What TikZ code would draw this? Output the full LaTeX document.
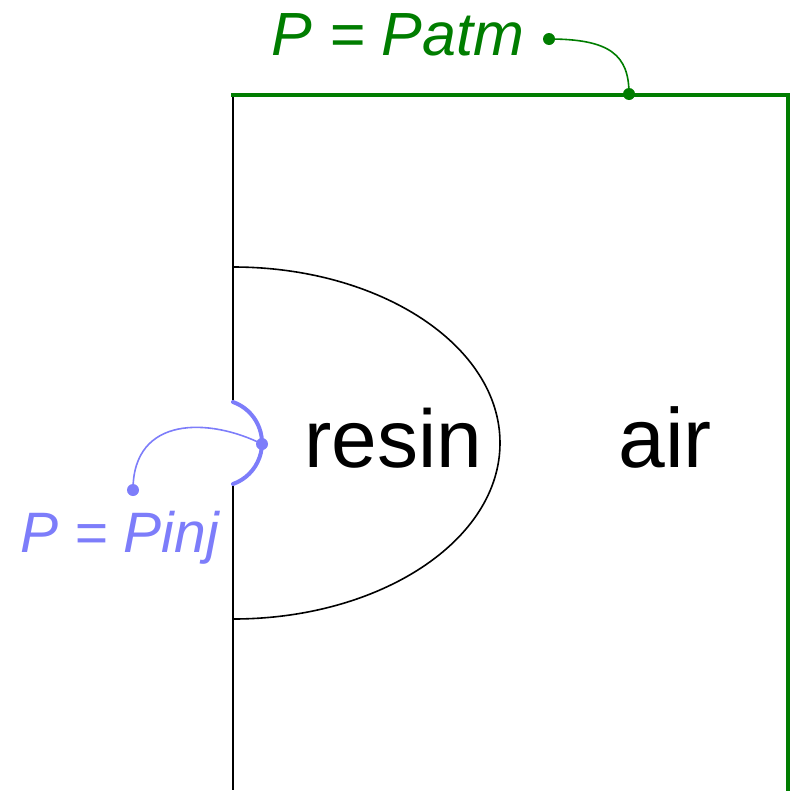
\documentclass[tikz,border=0pt]{standalone}
\usepackage{fontspec}
\setmainfont{Liberation Sans}
\usetikzlibrary{calc, positioning}

\definecolor{wallgreen}{RGB}{0,125,0}
\definecolor{inletblue}{RGB}{125,125,250}

\tikzset{
  wall/.style={line width=1.8pt, black},
  outlet/.style={line width=3.8pt, wallgreen},
  inlet/.style={line width=4pt, inletblue},
  leader/.style={line width=1.6pt},
  pin/.style={circle, fill, inner sep=0pt, minimum size=12pt},
  bigtext/.style={inner sep=0pt, anchor=base, font=\fontsize{82}{96}\selectfont},
  bctext/.style={inner sep=0pt, anchor=base}
}

\begin{document}
\begin{tikzpicture}[x=1pt,y=-1pt]
\def\xl{233}
\def\xr{788}
\def\ytop{95}
\def\ybot{790}
\def\yc{443}
\useasboundingbox (0,0) rectangle (792,790);

% walls of the mould
\draw[wall] (\xl,\ytop) -- (\xl,402);
\draw[wall] (\xl,483) -- (\xl,\ybot);
\draw[outlet, line cap=rect] (\xl,\ytop) -- (\xr,\ytop) -- (\xr,\ybot);

% resin front
\draw[line width=1.6pt] (\xl,267) arc[start angle=-90, end angle=90, x radius=267, y radius=176];

% injection gate
\draw[inlet, line cap=round] (\xl,402) arc[start angle=-70.5, end angle=70.5, radius=43.5];

\node[bigtext] (resin) at (393,467) {resin};
\node[bigtext, font=\fontsize{84}{96}\selectfont] (air) at (665,467) {air};

% boundary labels
\coordinate (gate) at (262,444);
\node[pin, inletblue] (gatepin) at (gate) {};
\node[pin, inletblue] (pinjpin) at (133,490) {};
\node[bctext, inletblue, font=\itshape\fontsize{57}{68}\selectfont] (pinj) at (120,552) {P = Pinj};
\draw[leader, inletblue] (pinjpin.center) .. controls (133,415) and (210,418) .. (gatepin.center);

\coordinate (top) at (629,94);
\node[pin, wallgreen] (toppin) at (top) {};
\node[pin, wallgreen] (patmpin) at (549,39) {};
\node[bctext, wallgreen, font=\itshape\fontsize{61}{72}\selectfont] (patm) at (398,55) {P = Patm};
\draw[leader, wallgreen] (patmpin.center) .. controls (610,39) and (629,55) .. (toppin.center);
\end{tikzpicture}
\end{document}
